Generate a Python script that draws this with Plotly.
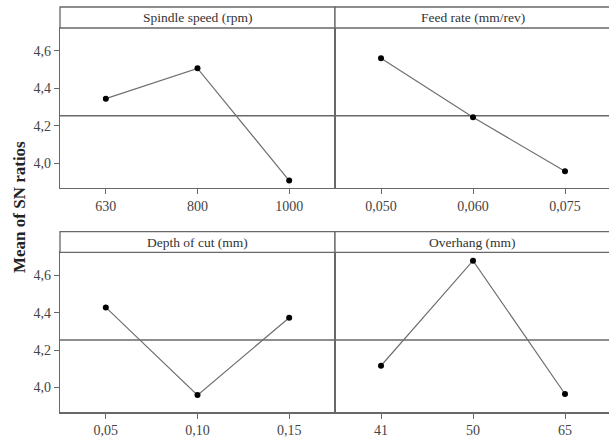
import plotly.graph_objects as go

# ---- data ----
factors = ["Spindle speed (rpm)", "Feed rate (mm/rev)", "Depth of cut (mm)", "Overhang (mm)"]
spindle_levels = ["630", "800", "1000"]
spindle_sn = [4.345, 4.507, 3.907]
feed_levels = ["0,050", "0,060", "0,075"]
feed_sn = [4.561, 4.245, 3.957]
depth_levels = ["0,05", "0,10", "0,15"]
depth_sn = [4.428, 3.959, 4.373]
overhang_levels = ["41", "50", "65"]
overhang_sn = [4.116, 4.678, 3.965]
y_tickvals = [4.0, 4.2, 4.4, 4.6]
y_ticktext = ["4,0", "4,2", "4,4", "4,6"]

all_levels = [spindle_levels, feed_levels, depth_levels, overhang_levels]
all_sn = [spindle_sn, feed_sn, depth_sn, overhang_sn]
grand_mean = sum(sum(v) for v in all_sn) / sum(len(v) for v in all_sn)

W, H = 611, 441
FONT = "Liberation Serif"
LINE = "#686868"

def fx(px):
    return px / W

def fy(py):
    return 1 - py / H

x_domains = [[fx(60), fx(335)], [fx(335), 1.0]]
# (plot top px, plot bottom px, header top px)
rows = [(28, 188, 7), (252.3, 412.3, 231.7)]

fig = go.Figure()
layout = dict(
    width=W, height=H,
    margin=dict(l=0, r=0, t=0, b=0),
    paper_bgcolor="white", plot_bgcolor="white",
    showlegend=False,
    font=dict(family=FONT, size=14, color="#444"),
)
shapes = []
annotations = []

for i in range(4):
    r, c = divmod(i, 2)
    n = i + 1
    xa = "xaxis" if n == 1 else f"xaxis{n}"
    ya = "yaxis" if n == 1 else f"yaxis{n}"
    xr = "x" if n == 1 else f"x{n}"
    yr = "y" if n == 1 else f"y{n}"
    top, bot, htop = rows[r]
    levels = all_levels[i]
    fig.add_trace(go.Scatter(
        x=list(range(len(levels))), y=all_sn[i], xaxis=xr, yaxis=yr,
        mode="lines+markers",
        line=dict(color="#707070", width=1.2),
        marker=dict(color="black", size=6),
        hoverinfo="skip",
    ))
    layout[xa] = dict(
        domain=x_domains[c], anchor=yr, range=[-0.5, len(levels) - 0.5],
        tickvals=list(range(len(levels))), ticktext=levels,
        ticks="outside", ticklen=5, tickcolor=LINE, tickwidth=1,
        showline=True, linecolor=LINE, linewidth=1.3, mirror=True,
        showgrid=False, zeroline=False, fixedrange=True,
        tickfont=dict(family=FONT, size=14, color="#444"),
    )
    layout[ya] = dict(
        domain=[fy(bot), fy(top)], anchor=xr, range=[3.867, 4.723],
        tickvals=y_tickvals, ticktext=y_ticktext,
        ticks="outside" if c == 0 else "", ticklen=5, tickcolor=LINE,
        showticklabels=(c == 0),
        showline=True, linecolor=LINE, linewidth=1.3, mirror=True,
        showgrid=False, zeroline=False, fixedrange=True,
        tickfont=dict(family=FONT, size=14, color="#444"),
    )
    # mean reference line
    shapes.append(dict(type="line", xref=f"{xr} domain", x0=0, x1=1,
                       yref=yr, y0=grand_mean, y1=grand_mean,
                       line=dict(color=LINE, width=1.5), layer="below"))
    # header strip
    shapes.append(dict(type="rect", xref="paper", yref="paper",
                       x0=x_domains[c][0], x1=x_domains[c][1],
                       y0=fy(top), y1=fy(htop),
                       line=dict(color=LINE, width=1.3), fillcolor="white"))
    annotations.append(dict(
        text=factors[i], xref="paper", yref="paper",
        x=(x_domains[c][0] + x_domains[c][1]) / 2,
        y=(fy(top) + fy(htop)) / 2, showarrow=False,
        xanchor="center", yanchor="middle",
        font=dict(family=FONT, size=13.5, color="#333"),
    ))

annotations.append(dict(
    text="<b>Mean of SN ratios</b>", xref="paper", yref="paper",
    x=fx(19), y=fy(207), showarrow=False, textangle=-90,
    xanchor="center", yanchor="middle",
    font=dict(family=FONT, size=17, color="#222"),
))

layout["shapes"] = shapes
layout["annotations"] = annotations
fig.update_layout(**layout)
fig.write_html("out.html", config={"displayModeBar": False, "staticPlot": True},
               post_script="document.body.style.margin='0';document.body.style.overflow='hidden';")
